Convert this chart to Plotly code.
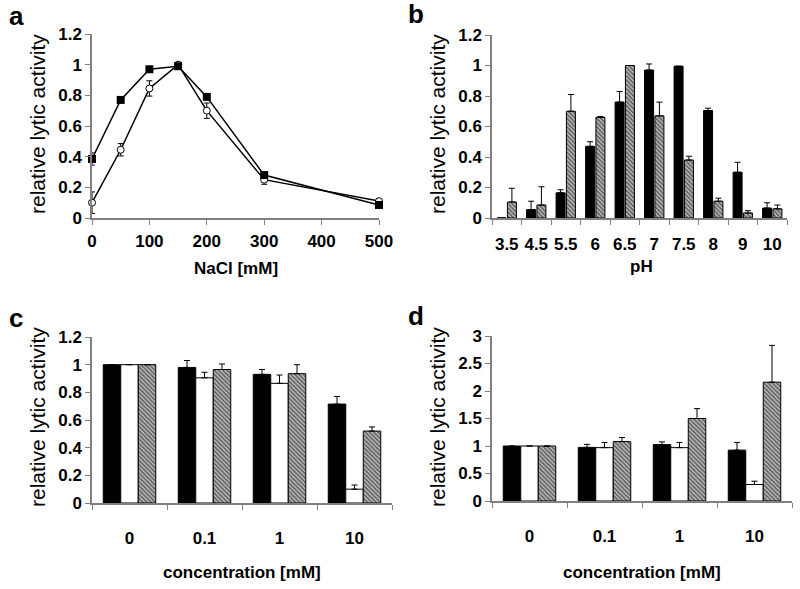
import plotly.graph_objects as go

# ---- Panel a data (NaCl) ----
nacl_x = [0, 50, 100, 150, 200, 300, 500]
nacl_sq = [0.385, 0.77, 0.97, 0.99, 0.79, 0.28, 0.085]
nacl_sq_err = [0.04, 0.01, 0.015, 0.01, 0.01, 0.01, 0.01]
nacl_ci = [0.10, 0.445, 0.845, 1.0, 0.70, 0.25, 0.11]
nacl_ci_err = [0.07, 0.04, 0.05, 0.01, 0.05, 0.03, 0.015]
nacl_ticks = [0, 100, 200, 300, 400, 500]

# ---- Panel b data (pH) ----
ph_cats = ["3.5", "4.5", "5.5", "6", "6.5", "7", "7.5", "8", "9", "10"]
ph_black = [0, 0.055, 0.165, 0.47, 0.76, 0.97, 0.995, 0.705, 0.30, 0.065]
ph_black_err = [0, 0.055, 0.02, 0.03, 0.07, 0.04, 0.0, 0.015, 0.065, 0.035]
ph_hatch = [0.105, 0.085, 0.70, 0.66, 1.0, 0.67, 0.38, 0.11, 0.033, 0.06]
ph_hatch_err = [0.09, 0.12, 0.11, 0.005, 0.0, 0.09, 0.025, 0.02, 0.015, 0.025]

# ---- Panel c data ----
conc_cats = ["0", "0.1", "1", "10"]
c_black = [1.0, 0.98, 0.93, 0.715]
c_black_err = [0, 0.05, 0.035, 0.055]
c_white = [1.0, 0.905, 0.865, 0.10]
c_white_err = [0, 0.04, 0.06, 0.03]
c_hatch = [1.0, 0.965, 0.935, 0.52]
c_hatch_err = [0, 0.04, 0.065, 0.03]

# ---- Panel d data ----
d_black = [1.0, 0.975, 1.025, 0.925]
d_black_err = [0, 0.055, 0.05, 0.14]
d_white = [1.0, 0.97, 0.97, 0.30]
d_white_err = [0, 0.095, 0.095, 0.06]
d_hatch = [1.0, 1.08, 1.50, 2.16]
d_hatch_err = [0, 0.075, 0.18, 0.67]

FONT = "Liberation Sans, Arial, sans-serif"
AXC = "#808080"

fig = go.Figure()

# Panel a
fig.add_trace(go.Scatter(
    x=nacl_x, y=nacl_ci, mode="lines+markers", xaxis="x", yaxis="y",
    line=dict(color="black", width=1.5),
    marker=dict(symbol="circle", size=7, color="white", line=dict(color="black", width=1)),
    error_y=dict(type="data", array=nacl_ci_err, color="black", thickness=1, width=3),
    cliponaxis=False, showlegend=False))
fig.add_trace(go.Scatter(
    x=nacl_x, y=nacl_sq, mode="lines+markers", xaxis="x", yaxis="y",
    line=dict(color="black", width=1.5),
    marker=dict(symbol="square", size=8, color="black"),
    error_y=dict(type="data", array=nacl_sq_err, color="#1a1a60", thickness=1, width=3),
    cliponaxis=False, showlegend=False))

def up_err(e):
    return dict(type="data", symmetric=False, array=e, arrayminus=[0] * len(e),
                color="black", thickness=1, width=3)

hatch = dict(shape="\\", size=3, solidity=0.6, fgcolor="black", bgcolor="#c8c8c8")

# Panel b
fig.add_trace(go.Bar(x=ph_cats, y=ph_black, xaxis="x2", yaxis="y2", width=0.305,
                     marker=dict(color="black", line=dict(color="black", width=1)),
                     error_y=up_err(ph_black_err), showlegend=False))
fig.add_trace(go.Bar(x=ph_cats, y=ph_hatch, xaxis="x2", yaxis="y2", width=0.305,
                     marker=dict(color="white", pattern=hatch, line=dict(color="black", width=1)),
                     error_y=up_err(ph_hatch_err), showlegend=False))

# Panel c
for vals, errs, kind in [(c_black, c_black_err, "b"), (c_white, c_white_err, "w"), (c_hatch, c_hatch_err, "h")]:
    mk = dict(color="black" if kind == "b" else "white", line=dict(color="black", width=1))
    if kind == "h":
        mk["pattern"] = hatch
    fig.add_trace(go.Bar(x=conc_cats, y=vals, xaxis="x3", yaxis="y3", marker=mk,
                         error_y=up_err(errs), showlegend=False))

# Panel d
for vals, errs, kind in [(d_black, d_black_err, "b"), (d_white, d_white_err, "w"), (d_hatch, d_hatch_err, "h")]:
    mk = dict(color="black" if kind == "b" else "white", line=dict(color="black", width=1))
    if kind == "h":
        mk["pattern"] = hatch
    fig.add_trace(go.Bar(x=conc_cats, y=vals, xaxis="x4", yaxis="y4", marker=mk,
                         error_y=up_err(errs), showlegend=False))

tickfont = dict(family=FONT, size=17, color="black", weight="bold")

def W(px0, px1):
    return [px0 / 800, px1 / 800]

def H(py_bottom, py_top):
    return [(589 - py_bottom) / 589, (589 - py_top) / 589]

common = dict(showline=True, linecolor=AXC, linewidth=1.5, ticks="outside", ticklen=5,
              tickcolor=AXC, showgrid=False, zeroline=False, tickfont=tickfont)

fig.update_layout(
    width=800, height=589, margin=dict(l=0, r=0, t=0, b=0, autoexpand=False),
    paper_bgcolor="white", plot_bgcolor="white",
    barmode="group", bargroupgap=0, bargap=0.3,
    xaxis=dict(domain=W(92, 379), range=[0, 500], tickvals=nacl_ticks, anchor="y",
               ticklabelstandoff=2, **common),
    yaxis=dict(domain=H(218, 34), range=[0, 1.2], dtick=0.2, anchor="x", **common),
    xaxis2=dict(domain=W(492, 787), type="category", anchor="y2", tickson="boundaries",
                tickangle=0, ticklabelstandoff=10, **common),
    yaxis2=dict(domain=H(218, 35), range=[0, 1.2], dtick=0.2, anchor="x2", **common),
    xaxis3=dict(domain=W(92, 392), type="category", anchor="y3", tickson="boundaries",
                tickangle=0, ticklabelstandoff=19, **common),
    yaxis3=dict(domain=H(503, 337), range=[0, 1.2], dtick=0.2, anchor="x3", **common),
    xaxis4=dict(domain=W(492, 792), type="category", anchor="y4", tickson="boundaries",
                tickangle=0, ticklabelstandoff=19, **common),
    yaxis4=dict(domain=H(501, 336), range=[0, 3], dtick=0.5, anchor="x4", **common),
)

ann = []
def txt(x, y, s, size, bold, angle=0):
    ann.append(dict(x=x / 800, y=(589 - y) / 589, xref="paper", yref="paper", text=s,
                    showarrow=False, textangle=angle, xanchor="center", yanchor="middle",
                    font=dict(family=FONT, size=size, color="black",
                              weight="bold" if bold else "normal")))

txt(16, 16, "a", 26, True)
txt(416, 14, "b", 26, True)
txt(16, 318, "c", 26, True)
txt(416, 316, "d", 26, True)

txt(37, 124, "relative lytic activity", 21, False, angle=-90)
txt(437, 124, "relative lytic activity", 21, False, angle=-90)
txt(37, 417, "relative lytic activity", 21, False, angle=-90)
txt(437, 417, "relative lytic activity", 21, False, angle=-90)

txt(236, 268, "NaCl [mM]", 17, True)
txt(641, 267, "pH", 17, True)
txt(242, 572, "concentration [mM]", 17, True)
txt(642, 572, "concentration [mM]", 17, True)

fig.update_layout(annotations=ann)

fig.write_html("out.html", config={"displayModeBar": False},
               post_script="document.body.style.margin='0';document.body.style.overflow='hidden';")
